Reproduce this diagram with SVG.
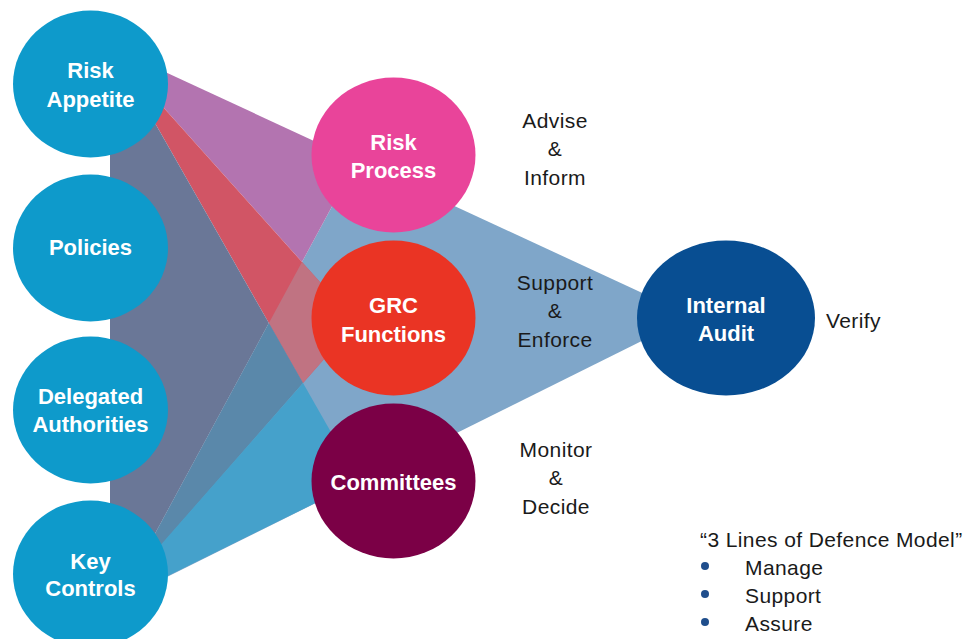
<svg xmlns="http://www.w3.org/2000/svg" width="977" height="639" viewBox="0 0 977 639">
  <style>
    .lbl { font-family: "Liberation Sans", Arial, sans-serif; font-weight: bold; font-size: 22px; fill: #ffffff; text-anchor: middle; }
    .txt { font-family: "Liberation Sans", Arial, sans-serif; font-size: 21px; fill: #1a1a1a; letter-spacing: 0.4px; }
    .mid { text-anchor: middle; }
    .input { fill: #0e9acb; }
  </style>
  <rect width="977" height="639" fill="#ffffff"/>

  <!-- translucent-looking bands linking the three columns -->
  <g id="connectors">
    <!-- broad band from the left column to Internal Audit -->
    <polygon points="356.7,160.7 692,316 118.6,601.1" fill="#7fa6c9"/>
    <!-- Risk Appetite to Risk Process -->
    <polygon points="150,65 356.7,160.7 302,262 150,92.5" fill="#b374b0"/>
    <!-- Risk Appetite to GRC Functions -->
    <polygon points="150,92.5 363,330 340,341 303,383 150,114.2" fill="#d15565"/>
    <polygon points="302,262 363,330 340,341 303,383 268.9,323.1" fill="#c07382"/>
    <!-- band joining the left column -->
    <polygon points="110,100 150,114.2 268.9,323.1 130,580 110,580" fill="#6a7797"/>
    <!-- Key Controls fan -->
    <polygon points="268.9,323.1 303,383 129,582" fill="#5a88aa"/>
    <polygon points="303,383 340,448 340,490.8 107,606" fill="#45a1cb"/>
  </g>

  <!-- left column -->
  <g id="risk-appetite">
    <ellipse class="input" cx="90.5" cy="84" rx="77.5" ry="73.5"/>
    <text class="lbl" x="90.5" y="78">Risk</text>
    <text class="lbl" x="90.5" y="107">Appetite</text>
  </g>
  <g id="policies">
    <ellipse class="input" cx="90.5" cy="248" rx="77.5" ry="73.5"/>
    <text class="lbl" x="90.5" y="255">Policies</text>
  </g>
  <g id="delegated-authorities">
    <ellipse class="input" cx="90.5" cy="410" rx="77.5" ry="73.5"/>
    <text class="lbl" x="90.5" y="404">Delegated</text>
    <text class="lbl" x="90.5" y="432">Authorities</text>
  </g>
  <g id="key-controls">
    <ellipse class="input" cx="90.5" cy="574" rx="77.5" ry="73.5"/>
    <text class="lbl" x="90.5" y="569">Key</text>
    <text class="lbl" x="90.5" y="596">Controls</text>
  </g>

  <!-- middle column -->
  <g id="risk-process">
    <ellipse cx="393.5" cy="155" rx="82" ry="77.5" fill="#e9449a"/>
    <text class="lbl" x="393.5" y="150">Risk</text>
    <text class="lbl" x="393.5" y="178">Process</text>
  </g>
  <g id="grc-functions">
    <ellipse cx="393.5" cy="318" rx="82" ry="77.5" fill="#ea3424"/>
    <text class="lbl" x="393.5" y="313">GRC</text>
    <text class="lbl" x="393.5" y="342">Functions</text>
  </g>
  <g id="committees">
    <ellipse cx="393.5" cy="481" rx="82" ry="77.5" fill="#7b0046"/>
    <text class="lbl" x="393.5" y="490">Committees</text>
  </g>

  <!-- right -->
  <g id="internal-audit">
    <ellipse cx="726" cy="318" rx="89" ry="77.5" fill="#084e92"/>
    <text class="lbl" x="726" y="313">Internal</text>
    <text class="lbl" x="726" y="341">Audit</text>
  </g>

  <!-- role labels -->
  <g id="labels">
    <text class="txt mid" x="555" y="128">Advise</text>
    <text class="txt mid" x="555" y="156">&amp;</text>
    <text class="txt mid" x="555" y="185">Inform</text>
    <text class="txt mid" x="555" y="290">Support</text>
    <text class="txt mid" x="555" y="318">&amp;</text>
    <text class="txt mid" x="555" y="347">Enforce</text>
    <text class="txt mid" x="556" y="457">Monitor</text>
    <text class="txt mid" x="556" y="485">&amp;</text>
    <text class="txt mid" x="556" y="514">Decide</text>
    <text class="txt" x="826" y="328">Verify</text>
  </g>

  <!-- legend -->
  <g id="legend">
    <text class="txt" x="700" y="547">“3 Lines of Defence Model”</text>
    <circle cx="705" cy="566" r="4" fill="#1f4e8c"/>
    <circle cx="705" cy="594" r="4" fill="#1f4e8c"/>
    <circle cx="705" cy="622" r="4" fill="#1f4e8c"/>
    <text class="txt" x="745" y="575">Manage</text>
    <text class="txt" x="745" y="603">Support</text>
    <text class="txt" x="745" y="631">Assure</text>
  </g>
</svg>
